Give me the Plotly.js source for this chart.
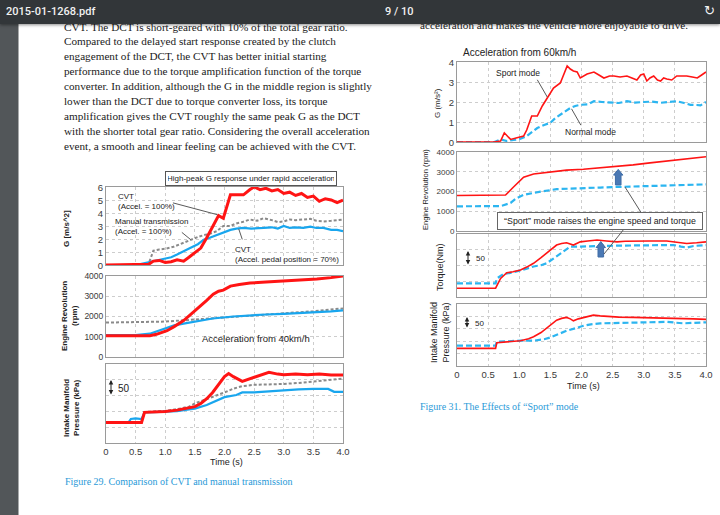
<!DOCTYPE html>
<html><head><meta charset="utf-8">
<script src="https://cdn.plot.ly/plotly-3.0.1.min.js"></script>
<style>
html,body{margin:0;padding:0;background:#fff;overflow:hidden}
#wrap{position:relative;width:720px;height:515px;background:#fff}
#chart{position:absolute;left:0;top:0;width:720px;height:515px}
#bar{position:absolute;left:0;top:0;width:720px;height:24px;background:#323639;box-shadow:0 1px 3px rgba(0,0,0,.45);font-family:Roboto,'Liberation Sans',sans-serif;color:#f1f1f1;font-size:11px;font-weight:500;z-index:5}
#bar span{position:absolute;top:5px}
</style></head>
<body>
<div id="wrap">
<div id="chart"></div>
<div id="bar"><span id="fname" style="left:6px"></span><span id="pages" style="left:385px"></span><span id="icon" style="left:704px;top:3px;font-size:13px;font-family:'DejaVu Sans'"></span></div>
</div>
<script>
// ---------------- text content ----------------
const fileName = "2015-01-1268.pdf";
const pageLabel = "9  /  10";
const paragraphLines = [
  "CVT. The DCT is short-geared with 10% of the total gear ratio.",
  "Compared to the delayed start response created by the clutch",
  "engagement of the DCT, the CVT has better initial starting",
  "performance due to the torque amplification function of the torque",
  "converter. In addition, although the G in the middle region is slightly",
  "lower than the DCT due to torque converter loss, its torque",
  "amplification gives the CVT roughly the same peak G as the DCT",
  "with the shorter total gear ratio. Considering the overall acceleration",
  "event, a smooth and linear feeling can be achieved with the CVT."
];
const rightTopLine = "acceleration and makes the vehicle more enjoyable to drive.";
const captionLeft = "Figure 29. Comparison of CVT and manual transmission";
const captionRight = "Figure 31. The Effects of \u201cSport\u201d mode";
const timeTickVals = [0,0.5,1,1.5,2,2.5,3,3.5,4];
const timeTickText = ["0","0.5","1.0","1.5","2.0","2.5","3.0","3.5","4.0"];
const gTicksLeft = [0,1,2,3,4,5,6];
const gTicksRight = [0,1,2,3,4];
const rpmTicks = [0,1000,2000,3000,4000];

// ---------------- Figure 29 (left) data ----------------
const tLG_cvt100 = [0,0.3,0.6,0.72,0.8,0.9,1.0,1.1,1.2,1.31,1.4,1.53,1.6,1.7,1.81,1.9,1.98,2.04,2.1,2.2,2.32,2.43,2.5,2.6,2.7,2.8,2.9,3.0,3.1,3.2,3.3,3.4,3.5,3.6,3.7,3.8,3.9,4.0];
const gCvt100     = [0,0,0,0.05,0.3,0.35,0.2,0.25,0.4,0.3,0.6,1.06,1.3,2.1,3.1,3.8,3.6,4.6,5.4,5.4,5.4,5.8,6.0,5.8,5.9,5.7,5.8,5.5,5.6,5.35,5.5,5.2,5.3,4.9,5.1,5.0,4.8,5.0];
const tLG_cvt70 = [0,0.5,0.6,0.7,0.8,0.9,1.0,1.1,1.2,1.3,1.42,1.55,1.65,1.75,1.87,2.0,2.1,2.2,2.32,2.45,2.55,2.66,2.8,2.9,3.0,3.1,3.2,3.33,3.45,3.55,3.67,3.8,3.9,4.0];
const gCvt70    = [0,0,0.1,0.2,0.25,0.35,0.45,0.6,0.8,1.0,1.3,1.6,1.95,2.1,2.3,2.5,2.7,2.8,2.85,2.8,2.85,2.85,2.9,2.8,3.0,2.85,2.9,2.85,2.95,2.85,2.85,2.7,2.7,2.6];
const tLG_manual = [0,0.6,0.72,0.8,0.9,1.0,1.14,1.25,1.42,1.55,1.65,1.75,1.87,1.98,2.1,2.2,2.3,2.43,2.55,2.66,2.8,2.9,3.0,3.1,3.2,3.33,3.45,3.55,3.67,3.8,3.9,4.0];
const gManual    = [0,0,0.1,1.1,1.2,1.25,1.4,1.6,1.95,2.15,2.3,2.4,2.6,3.0,3.0,3.2,3.3,3.5,3.4,3.6,3.45,3.3,3.35,3.5,3.45,3.5,3.55,3.4,3.35,3.4,3.45,3.5];

const tLR_cvt100 = [0,0.5,0.74,0.85,1.03,1.15,1.31,1.45,1.59,1.7,1.81,1.9,1.98,2.1,2.25,2.43,2.7,3.0,3.3,3.56,3.8,4.0];
const rpmCvt100  = [1050,1050,1050,1120,1300,1500,1800,2150,2500,2800,3100,3250,3300,3500,3580,3650,3700,3750,3780,3850,3920,4000];
const tLR_cvt70 = [0,0.5,0.74,0.9,1.03,1.15,1.31,1.45,1.59,1.8,2.15,2.4,2.7,3.0,3.3,3.56,3.8,4.0];
const rpmCvt70  = [1080,1080,1150,1300,1450,1560,1650,1720,1800,1900,2000,2050,2100,2130,2170,2200,2250,2300];
const tLR_manual = [0,0.5,1.0,1.5,2.0,2.5,3.0,3.5,4.0];
const rpmManual  = [1700,1720,1750,1850,1950,2050,2150,2260,2400];

const tLP_cvt100 = [0,0.5,0.6,0.65,0.8,1.0,1.2,1.4,1.5,1.6,1.7,1.8,1.9,2.0,2.07,2.15,2.3,2.45,2.6,2.75,2.9,3.0,3.2,3.4,3.6,3.8,4.0];
const kpaCvt100  = [65,65,65,97,98,100,104,110,115,125,140,160,185,210,220,210,195,205,215,224,218,216,218,216,218,215,215];
const tLP_cvt70 = [0,0.38,0.42,0.5,0.6,0.65,0.8,1.0,1.2,1.4,1.5,1.7,1.85,2.0,2.2,2.3,2.5,2.75,3.0,3.25,3.5,3.75,3.85,4.0];
const kpaCvt70  = [65,65,76,78,76,97,98,99,101,106,109,120,133,145,152,160,160,164,168,170,171,171,162,162];
const tLP_manual = [0,0.6,0.65,0.8,1.0,1.2,1.4,1.5,1.7,1.85,2.0,2.15,2.3,2.5,2.75,3.0,3.25,3.5,3.75,4.0];
const kpaManual  = [65,65,98,99,102,107,115,125,138,150,160,172,180,184,185,187,190,195,199,204];

// ---------------- Figure 31 (right) data ----------------
const tRG_sport = [0,0.59,0.7,0.76,0.86,0.96,1.07,1.12,1.2,1.29,1.37,1.47,1.55,1.66,1.71,1.77,1.82,1.87,1.93,1.98,2.09,2.2,2.28,2.36,2.45,2.52,2.62,2.73,2.81,2.89,2.95,3.0,3.05,3.1,3.16,3.22,3.27,3.32,3.37,3.45,3.53,3.61,3.69,3.78,3.86,3.93,4.0];
const gSport    = [0,0,0.05,0.46,0.13,0.2,0.3,0.6,1.3,1.3,1.8,2.3,2.7,2.95,3.3,3.8,3.65,3.55,3.5,3.2,3.4,3.5,3.35,3.2,3.3,3.3,3.25,3.3,3.2,3.1,3.35,3.4,3.05,3.2,3.3,3.1,3.05,3.2,3.15,3.1,3.3,3.3,3.3,3.25,3.2,3.35,3.5];
const tRG_normal = [0,0.6,0.7,0.8,0.91,1.02,1.12,1.2,1.29,1.4,1.5,1.58,1.66,1.74,1.82,1.9,1.98,2.1,2.2,2.33,2.46,2.6,2.73,2.86,3.0,3.13,3.27,3.4,3.53,3.65,3.75,3.85,3.91,4.0];
const gNormal    = [0,0,0.13,0.05,0.1,0.16,0.3,0.5,0.7,0.85,0.96,1.2,1.38,1.55,1.7,1.8,1.86,1.88,2.04,2.0,1.96,1.95,2.04,1.97,2.0,2.02,1.96,2.0,2.04,1.95,1.86,1.85,1.83,2.0];

const tRR_sport = [0,0.78,0.9,1.07,1.23,1.5,1.76,2.03,2.3,2.57,2.83,3.1,3.4,3.7,4.0];
const rpmSport  = [1800,1820,2200,2727,2890,3000,3080,3130,3200,3260,3350,3450,3550,3660,3760];
const tRR_normal = [0,0.7,0.86,0.95,1.07,1.2,1.34,1.6,2.03,2.3,2.57,3.1,3.5,4.0];
const rpmNormal  = [1250,1260,1420,1650,1830,1920,1990,2120,2150,2200,2230,2270,2310,2360];

const tRT_sport = [0,0.62,0.7,0.8,0.9,1.02,1.12,1.23,1.35,1.44,1.52,1.6,1.68,1.76,1.87,1.98,2.1,2.25,2.4,2.57,2.7,2.83,3.1,3.37,3.55,3.69,3.85,4.0];
const nmSport   = [28,28,59,77,80,86,95,107,125,139,153,165,170,172,165,175,178,181,178,175,177,178,178,178,174,170,172,175];
const tRT_normal = [0,0.62,0.64,0.75,0.9,1.02,1.12,1.23,1.35,1.44,1.55,1.66,1.75,1.82,1.95,2.08,2.3,2.57,2.83,3.1,3.3,3.48,3.6,3.69,3.8,4.0];
const nmNormal   = [43,43,59,73,78,84,90,97,101,107,122,139,152,160,160,160,162,163,163,163,164,165,160,157,162,165];

const tRP_sport = [0,0.62,0.64,0.8,1.02,1.15,1.23,1.35,1.44,1.52,1.6,1.68,1.76,1.82,1.87,1.95,2.03,2.1,2.19,2.3,2.41,2.6,2.83,3.1,3.37,3.6,3.8,4.0];
const kpaSport  = [71,71,94,98,102,110,118,135,152,170,185,192,196,190,182,190,196,200,205,202,200,197,196,195,192,193,190,188];
const tRP_normal = [0,0.62,0.64,0.8,1.02,1.23,1.4,1.5,1.65,1.76,1.9,2.03,2.15,2.3,2.5,2.83,3.1,3.37,3.5,3.64,3.8,4.0];
const kpaNormal  = [82,82,98,100,102,102,108,115,130,142,152,162,168,172,173,174,176,178,175,172,174,176];

// ---------------- layout helpers ----------------
const W = 720, H = 515;
const px = v => v / W;
const py = v => 1 - v / H;
const SANS = "'Liberation Sans', Arial, sans-serif";
const SERIF = "'Liberation Serif', 'Times New Roman', serif";
const RED = "#ff1414", BLUE = "#19a6ee", GREY = "#8a8a8a", BLUE2 = "#2cb5f0";

document.getElementById('fname').textContent = fileName;
document.getElementById('pages').textContent = pageLabel;
document.getElementById('icon').textContent = "\u21bb";

function xAx(l, r, anchor, labels) {
  return {domain:[px(l), px(r)], anchor: anchor, range:[0,4], showgrid:true, gridcolor:'#cdcdcd', griddash:'dot', gridwidth:1,
    tickmode:'array', tickvals: timeTickVals, ticktext: timeTickText, showticklabels: labels, ticks:'', zeroline:false,
    showline:true, mirror:true, linecolor:'#9a9a9a', linewidth:1, tickfont:{family:SANS,size:9.5,color:'#3a3a3a'}, fixedrange:true};
}
function yAx(top, bot, anchor, range, ticks, labels, fsize, shift) {
  return {domain:[py(bot), py(top)], anchor: anchor, range: range, showgrid:true, gridcolor:'#cdcdcd', griddash:'dot', gridwidth:1,
    tickmode:'array', tickvals: ticks, showticklabels: labels, ticks:'', zeroline:false, ticklabelshift: shift || 0,
    showline:true, mirror:true, linecolor:'#9a9a9a', linewidth:1, tickfont:{family:SANS,size:fsize||10,color:'#3a3a3a'}, fixedrange:true};
}
function line(x, y, xa, ya, color, width, dash) {
  return {x:x, y:y, xaxis:xa, yaxis:ya, type:'scatter', mode:'lines', hoverinfo:'skip', showlegend:false,
    line:{color:color, width:width, dash:dash||'solid'}};
}
function txt(x, y, text, size, o) {
  o = o || {};
  return Object.assign({xref:'paper', yref:'paper', x:px(x), y:py(y), text:text, showarrow:false,
    xanchor:'center', yanchor:'middle', font:{family:SANS, size:size, color:'#222'}}, o);
}
function vArrow(x, yTop, yBot) {
  return {xref:'paper', yref:'paper', x:px(x), y:py(yTop), ax:0, ay:(yBot - yTop), axref:'pixel', ayref:'pixel',
    text:'', showarrow:true, arrowhead:2, arrowside:'end+start', arrowsize:0.9, arrowwidth:1, arrowcolor:'#222', standoff:0, startstandoff:0};
}
function seg(xr, yr, x0, y0, x1, y1) {
  return {type:'line', xref:xr, yref:yr, x0:x0, y0:y0, x1:x1, y1:y1, line:{color:'#5a5a5a', width:1}};
}
function blockArrow(xr, yr, xc, yBot, yTip, headH, s, h) {
  const hb = yTip - headH;
  const p = `M${xc-s},${yBot} L${xc-s},${hb} L${xc-h},${hb} L${xc},${yTip} L${xc+h},${hb} L${xc+s},${hb} L${xc+s},${yBot} Z`;
  return {type:'path', xref:xr, yref:yr, path:p, fillcolor:'#4a78b4', line:{color:'#3f6ca6', width:1}};
}

const data = [
  line(tLG_manual, gManual, 'x', 'y', GREY, 2, '3px,2px'),
  line(tLG_cvt70, gCvt70, 'x', 'y', BLUE, 2.2),
  line(tLG_cvt100, gCvt100, 'x', 'y', RED, 3),
  line(tLR_manual, rpmManual, 'x2', 'y2', GREY, 2, '3px,2px'),
  line(tLR_cvt70, rpmCvt70, 'x2', 'y2', BLUE, 2.2),
  line(tLR_cvt100, rpmCvt100, 'x2', 'y2', RED, 3),
  line(tLP_manual, kpaManual, 'x3', 'y3', GREY, 2, '3px,2px'),
  line(tLP_cvt70, kpaCvt70, 'x3', 'y3', BLUE, 2.2),
  line(tLP_cvt100, kpaCvt100, 'x3', 'y3', RED, 3),
  line(tRG_normal, gNormal, 'x4', 'y4', BLUE2, 2.2, '6px,3px'),
  line(tRG_sport, gSport, 'x4', 'y4', RED, 1.6),
  line(tRR_normal, rpmNormal, 'x5', 'y5', BLUE2, 2.2, '6px,3px'),
  line(tRR_sport, rpmSport, 'x5', 'y5', RED, 1.6),
  line(tRT_normal, nmNormal, 'x6', 'y6', BLUE2, 2.2, '6px,3px'),
  line(tRT_sport, nmSport, 'x6', 'y6', RED, 1.6),
  line(tRP_normal, kpaNormal, 'x7', 'y7', BLUE2, 2.2, '6px,3px'),
  line(tRP_sport, kpaSport, 'x7', 'y7', RED, 1.6)
];

const annotations = [];
paragraphLines.forEach((s, i) => {
  annotations.push(txt(62, 26.5 + i * 14.9, s, 11.2, {xanchor:'left', font:{family:SERIF, size:11.2, color:'#1a1a1a'}}));
});
annotations.push(txt(418, 25, rightTopLine, 11.2, {xanchor:'left', font:{family:SERIF, size:11.2, color:'#1a1a1a'}}));
annotations.push(txt(63, 481, captionLeft, 10, {xanchor:'left', font:{family:SERIF, size:10, color:'#2a9ad8'}}));
annotations.push(txt(418, 406, captionRight, 10, {xanchor:'left', font:{family:SERIF, size:10, color:'#2a9ad8'}}));

// left figure texts
annotations.push(txt(251, 178, "High-peak G response under rapid acceleration", 8, {bordercolor:'#555', borderwidth:1, borderpad:2, bgcolor:'#fff', width:166}));
annotations.push(txt(116, 190, "CVT<br>(Accel. = 100%)", 8, {xanchor:'left', yanchor:'top', align:'left'}));
annotations.push(txt(113, 215, "Manual transmission<br>(Accel. = 100%)", 8, {xanchor:'left', yanchor:'top', align:'left'}));
annotations.push(txt(233, 243, "CVT<br>(Accel. pedal position = 70%)", 8, {xanchor:'left', yanchor:'top', align:'left'}));
annotations.push(txt(256, 338, "Acceleration from 40km/h", 9.5));
annotations.push(txt(67, 229, "<b>G [m/s^2]</b>", 8, {textangle:-90}));
annotations.push(txt(69, 316, "<b>Engine Revolution<br>(rpm)</b>", 8, {textangle:-90}));
annotations.push(txt(71, 408, "<b>Intake Manifold<br>Pressure (kPa)</b>", 8, {textangle:-90}));
annotations.push(txt(226, 462, "Time (s)", 9));
annotations.push(vArrow(111, 380, 396));
annotations.push(txt(116, 388, "50", 10, {xanchor:'left'}));

// right figure texts
annotations.push(txt(519, 52, "Acceleration from 60km/h", 10));
annotations.push(txt(518, 73, "Sport mode", 8.5));
annotations.push(txt(590, 132, "Normal mode", 8.5));
annotations.push(txt(438, 103, "G (m/s\u00b2)", 8, {textangle:-90}));
annotations.push(txt(425, 190, "Engine Revolution (rpm)", 7.5, {textangle:-90}));
annotations.push(txt(440, 267, "Torque(Nm)", 9, {textangle:-90}));
annotations.push(txt(440, 333, "Intake Manifold<br>Pressure (kPa)", 9, {textangle:-90}));
annotations.push(txt(600, 221, "\u201cSport\u201d mode raises the engine speed and torque", 8.8, {bordercolor:'#666', borderwidth:1, borderpad:3, bgcolor:'#fff', width:198}));
annotations.push(txt(583, 386, "Time (s)", 9));
annotations.push(vArrow(468, 251, 266));
annotations.push(txt(474, 258, "50", 8, {xanchor:'left'}));
annotations.push(vArrow(467, 317, 329));
annotations.push(txt(473, 323, "50", 8, {xanchor:'left'}));

const shapes = [
  {type:'rect', xref:'paper', yref:'paper', x0:0, x1:px(18.5), y0:0, y1:1, fillcolor:'#525659', line:{width:0}, layer:'below'},
  seg('x', 'y', 1.13, 4.78, 1.88, 3.87),
  seg('x', 'y', 1.28, 2.51, 1.43, 1.95),
  seg('x', 'y', 2.30, 1.97, 2.24, 2.78),
  seg('x4', 'y4', 1.29, 3.11, 1.45, 2.25),
  seg('x4', 'y4', 1.84, 1.66, 1.99, 0.84),
  blockArrow('x5', 'y5', 2.59, 2330, 3120, 290, 0.045, 0.075),
  blockArrow('x6', 'y6', 2.31, 127, 176, 19, 0.045, 0.075),
  {type:'line', xref:'paper', yref:'paper', x0:px(625), y0:py(187), x1:px(642), y1:py(214), line:{color:'#5a5a5a', width:1}},
  {type:'line', xref:'paper', yref:'paper', x0:px(624), y0:py(229), x1:px(604), y1:py(254), line:{color:'#5a5a5a', width:1}}
];

const layout = {
  width: W, height: H, margin:{l:0, r:0, t:0, b:0, pad:0},
  paper_bgcolor:'#ffffff', plot_bgcolor:'#ffffff', showlegend:false,
  font:{family:SANS, size:10, color:'#222'},
  xaxis: xAx(106, 343, 'y', false),
  yaxis: yAx(187, 265, 'x', [0,6], gTicksLeft, true, 9.5, 1),
  xaxis2: xAx(106, 343, 'y2', false),
  yaxis2: yAx(276, 357, 'x2', [0,4000], rpmTicks, true, 8.5, -1.5),
  xaxis3: xAx(106, 343, 'y3', true),
  yaxis3: yAx(364, 443, 'x3', [0,250], [50,100,150,200], false),
  xaxis4: xAx(457, 706, 'y4', false),
  yaxis4: yAx(62, 142, 'x4', [0,4], gTicksRight, true, 9.5, 1),
  xaxis5: xAx(457, 706, 'y5', false),
  yaxis5: yAx(152, 231, 'x5', [0,4000], rpmTicks, true, 8, -1.5),
  xaxis6: xAx(457, 706, 'y6', false),
  yaxis6: yAx(234, 297, 'x6', [0,200], [50,100,150], false),
  xaxis7: xAx(457, 706, 'y7', true),
  yaxis7: yAx(304, 366, 'x7', [0,250], [50,100,150,200], false),
  annotations: annotations,
  shapes: shapes
};

Plotly.newPlot('chart', data, layout, {staticPlot:true, displayModeBar:false});
</script>
</body></html>
